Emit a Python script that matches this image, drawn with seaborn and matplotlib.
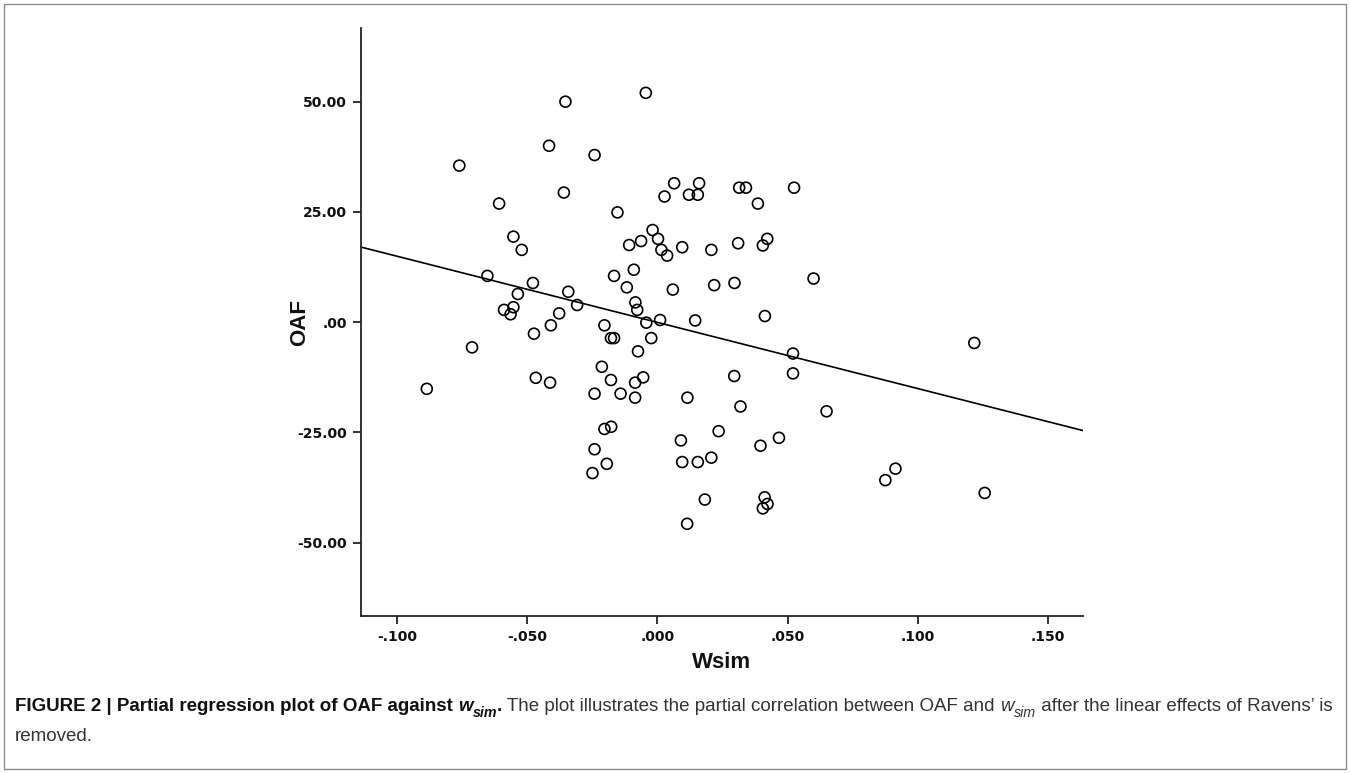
import matplotlib
matplotlib.use("Agg")
import matplotlib.pyplot as plt
import pandas as pd
import seaborn as sns
from matplotlib.patches import Rectangle
from matplotlib.ticker import FuncFormatter

# partial residuals (Wsim | Ravens', OAF | Ravens')
wsim = [
    -0.0354, -0.0417, -0.0242, -0.0762, -0.0360, -0.0609, -0.0554, -0.0522,
    -0.0045, -0.0154, 0.0064, 0.0160, 0.0027, 0.0121, 0.0155, 0.0314,
    0.0340, 0.0525, 0.0386, -0.0019, 0.0002, -0.0063, -0.0109, 0.0015,
    0.0037, 0.0095, 0.0207, 0.0310, 0.0422, 0.0405, -0.0654, -0.0479,
    -0.0537, -0.0343, -0.0309, -0.0590, -0.0554, -0.0565, -0.0378, -0.0410,
    -0.0475, -0.0204, -0.0713, -0.0214, -0.0468, -0.0413, -0.0242, -0.0887,
    -0.0204, -0.0242, -0.0091, -0.0167, -0.0118, 0.0059, 0.0218, 0.0296,
    0.0600, -0.0085, -0.0078, -0.0043, 0.0010, 0.0145, 0.0413, -0.0179,
    -0.0167, -0.0024, -0.0075, 0.0521, -0.0179, -0.0086, -0.0055, 0.0295,
    0.0521, -0.0142, -0.0086, 0.0115, 0.0319, 0.0650, -0.0178, 0.0090,
    0.0235, 0.0467, 0.0396, 0.1218, -0.0195, 0.0095, 0.0155, 0.0207,
    0.0182, 0.0114, 0.0412, 0.0423, 0.0405, -0.0250, 0.0915, 0.0876,
    0.1258,
]
oaf = [
    50.0, 40.0, 37.9, 35.5, 29.4, 26.9, 19.4, 16.4,
    52.0, 24.9, 31.5, 31.5, 28.5, 28.9, 28.9, 30.5,
    30.5, 30.5, 26.9, 20.9, 18.9, 18.4, 17.5, 16.4,
    15.1, 17.0, 16.4, 17.9, 18.9, 17.4, 10.5, 8.9,
    6.4, 6.9, 3.9, 2.8, 3.4, 1.8, 2.0, -0.7,
    -2.6, -0.7, -5.7, -10.1, -12.6, -13.7, -16.2, -15.1,
    -24.2, -28.8, 11.9, 10.5, 7.9, 7.4, 8.4, 8.9,
    9.9, 4.5, 2.8, -0.1, 0.5, 0.4, 1.4, -3.6,
    -3.6, -3.6, -6.6, -7.1, -13.1, -13.7, -12.5, -12.2,
    -11.6, -16.2, -17.1, -17.1, -19.1, -20.2, -23.7, -26.8,
    -24.7, -26.2, -28.0, -4.7, -32.1, -31.7, -31.7, -30.7,
    -40.2, -45.7, -39.7, -41.2, -42.2, -34.2, -33.2, -35.8,
    -38.7,
]

x_ticks = [-0.100, -0.050, 0.000, 0.050, 0.100, 0.150]
y_ticks = [-50.0, -25.0, 0.0, 25.0, 50.0]

W, H = 1350, 773
CAPTION_FONT = ["Liberation Sans", "DejaVu Sans"]


def spss_fmt(decimals):
    def fmt(v, _pos):
        s = f"{v:.{decimals}f}"
        if s.startswith("0."):
            s = s[1:]
        elif s.startswith("-0."):
            s = "-" + s[2:]
        if s.startswith("-") and float(s) == 0:
            s = s[1:]
        return s
    return FuncFormatter(fmt)


def caption_pieces(fs):
    sub = fs * 0.76
    dy = fs * 0.42
    bold = dict(family=CAPTION_FONT, fontsize=fs, fontweight="bold", color="#111111")
    bold_it = dict(bold, style="italic")
    bold_it_sub = dict(bold_it, fontsize=sub)
    normal = dict(family=CAPTION_FONT, fontsize=fs, color="#333333")
    italic = dict(normal, style="italic")
    italic_sub = dict(italic, fontsize=sub)
    line1 = [
        ("FIGURE 2 | Partial regression plot of OAF against ", 0, bold),
        ("w", 0, bold_it),
        ("sim", dy, bold_it_sub),
        (".", 0, bold),
        (" The plot illustrates the partial correlation between OAF and ", 0, normal),
        ("w", 0, italic),
        ("sim", dy, italic_sub),
        (" after the linear effects of Ravens\u2019 is", 0, normal),
    ]
    line2 = [("removed.", 0, normal)]
    return line1, line2


def put_run(fig, renderer, x, y, pieces):
    # draw text pieces one after another along a baseline (pixel coords, top-left origin)
    made = []
    for text, dy, kw in pieces:
        t = fig.text(x / W, 1 - (y + dy) / H, text, va="baseline", ha="left", **kw)
        x += t.get_window_extent(renderer).width
        made.append(t)
    return x, made


def main():
    sns.set_style("ticks")
    plt.rcParams["font.family"] = ["DejaVu Sans"]

    df = pd.DataFrame({"Wsim": wsim, "OAF": oaf})

    fig = plt.figure(figsize=(W / 100, H / 100), dpi=100)
    ax = fig.add_axes([361 / W, 1 - 616 / H, (1083 - 361) / W, (616 - 28) / H])
    ax.set_xlim(-0.114, 0.1636)
    ax.set_ylim(-66.6, 66.7)

    sns.scatterplot(data=df, x="Wsim", y="OAF", ax=ax, s=62, marker="o",
                    facecolor="none", edgecolor="black", linewidth=1.2, zorder=3)
    sns.regplot(data=df, x="Wsim", y="OAF", ax=ax, scatter=False, ci=None,
                truncate=False, line_kws=dict(color="black", lw=1.2))

    sns.despine(ax=ax)
    for side in ("left", "bottom"):
        ax.spines[side].set_color("#222222")
        ax.spines[side].set_linewidth(1.3)
    ax.set_xticks(x_ticks)
    ax.set_yticks(y_ticks)
    ax.xaxis.set_major_formatter(spss_fmt(3))
    ax.yaxis.set_major_formatter(spss_fmt(2))
    ax.tick_params(direction="out", length=6, width=1.3, color="#222222",
                   labelsize=10, pad=4)
    for lab in ax.get_xticklabels() + ax.get_yticklabels():
        lab.set_fontweight("bold")
        lab.set_color("#111111")

    ax.set_xlabel("Wsim", fontsize=16, fontweight="bold", family=CAPTION_FONT)
    ax.set_ylabel("OAF", fontsize=16, fontweight="bold", family=CAPTION_FONT)
    ax.xaxis.set_label_coords(0.5, -(662 - 616) / 588)
    ax.xaxis.label.set_va("center")
    ax.yaxis.set_label_coords((300 - 361) / 722, 0.5)
    ax.yaxis.label.set_va("center")
    ax.xaxis.label.set_color("#111111")
    ax.yaxis.label.set_color("#111111")

    fig.patches.append(Rectangle((4 / W, 4 / H), 1 - 8 / W, 1 - 8 / H,
                                 transform=fig.transFigure, fill=False,
                                 edgecolor="#8a8a8a", linewidth=1.0))

    fig.canvas.draw()
    renderer = fig.canvas.get_renderer()

    # size the caption so its first line ends where the reference's does
    fs = 12.0
    line1, _ = caption_pieces(fs)
    right, made = put_run(fig, renderer, 15, 711, line1)
    for t in made:
        t.remove()
    fs = fs * (1336 - 15) / (right - 15)
    line1, line2 = caption_pieces(fs)
    put_run(fig, renderer, 15, 711, line1)
    put_run(fig, renderer, 15, 741, line2)

    fig.savefig("out.png", dpi=100)


if __name__ == "__main__":
    main()
